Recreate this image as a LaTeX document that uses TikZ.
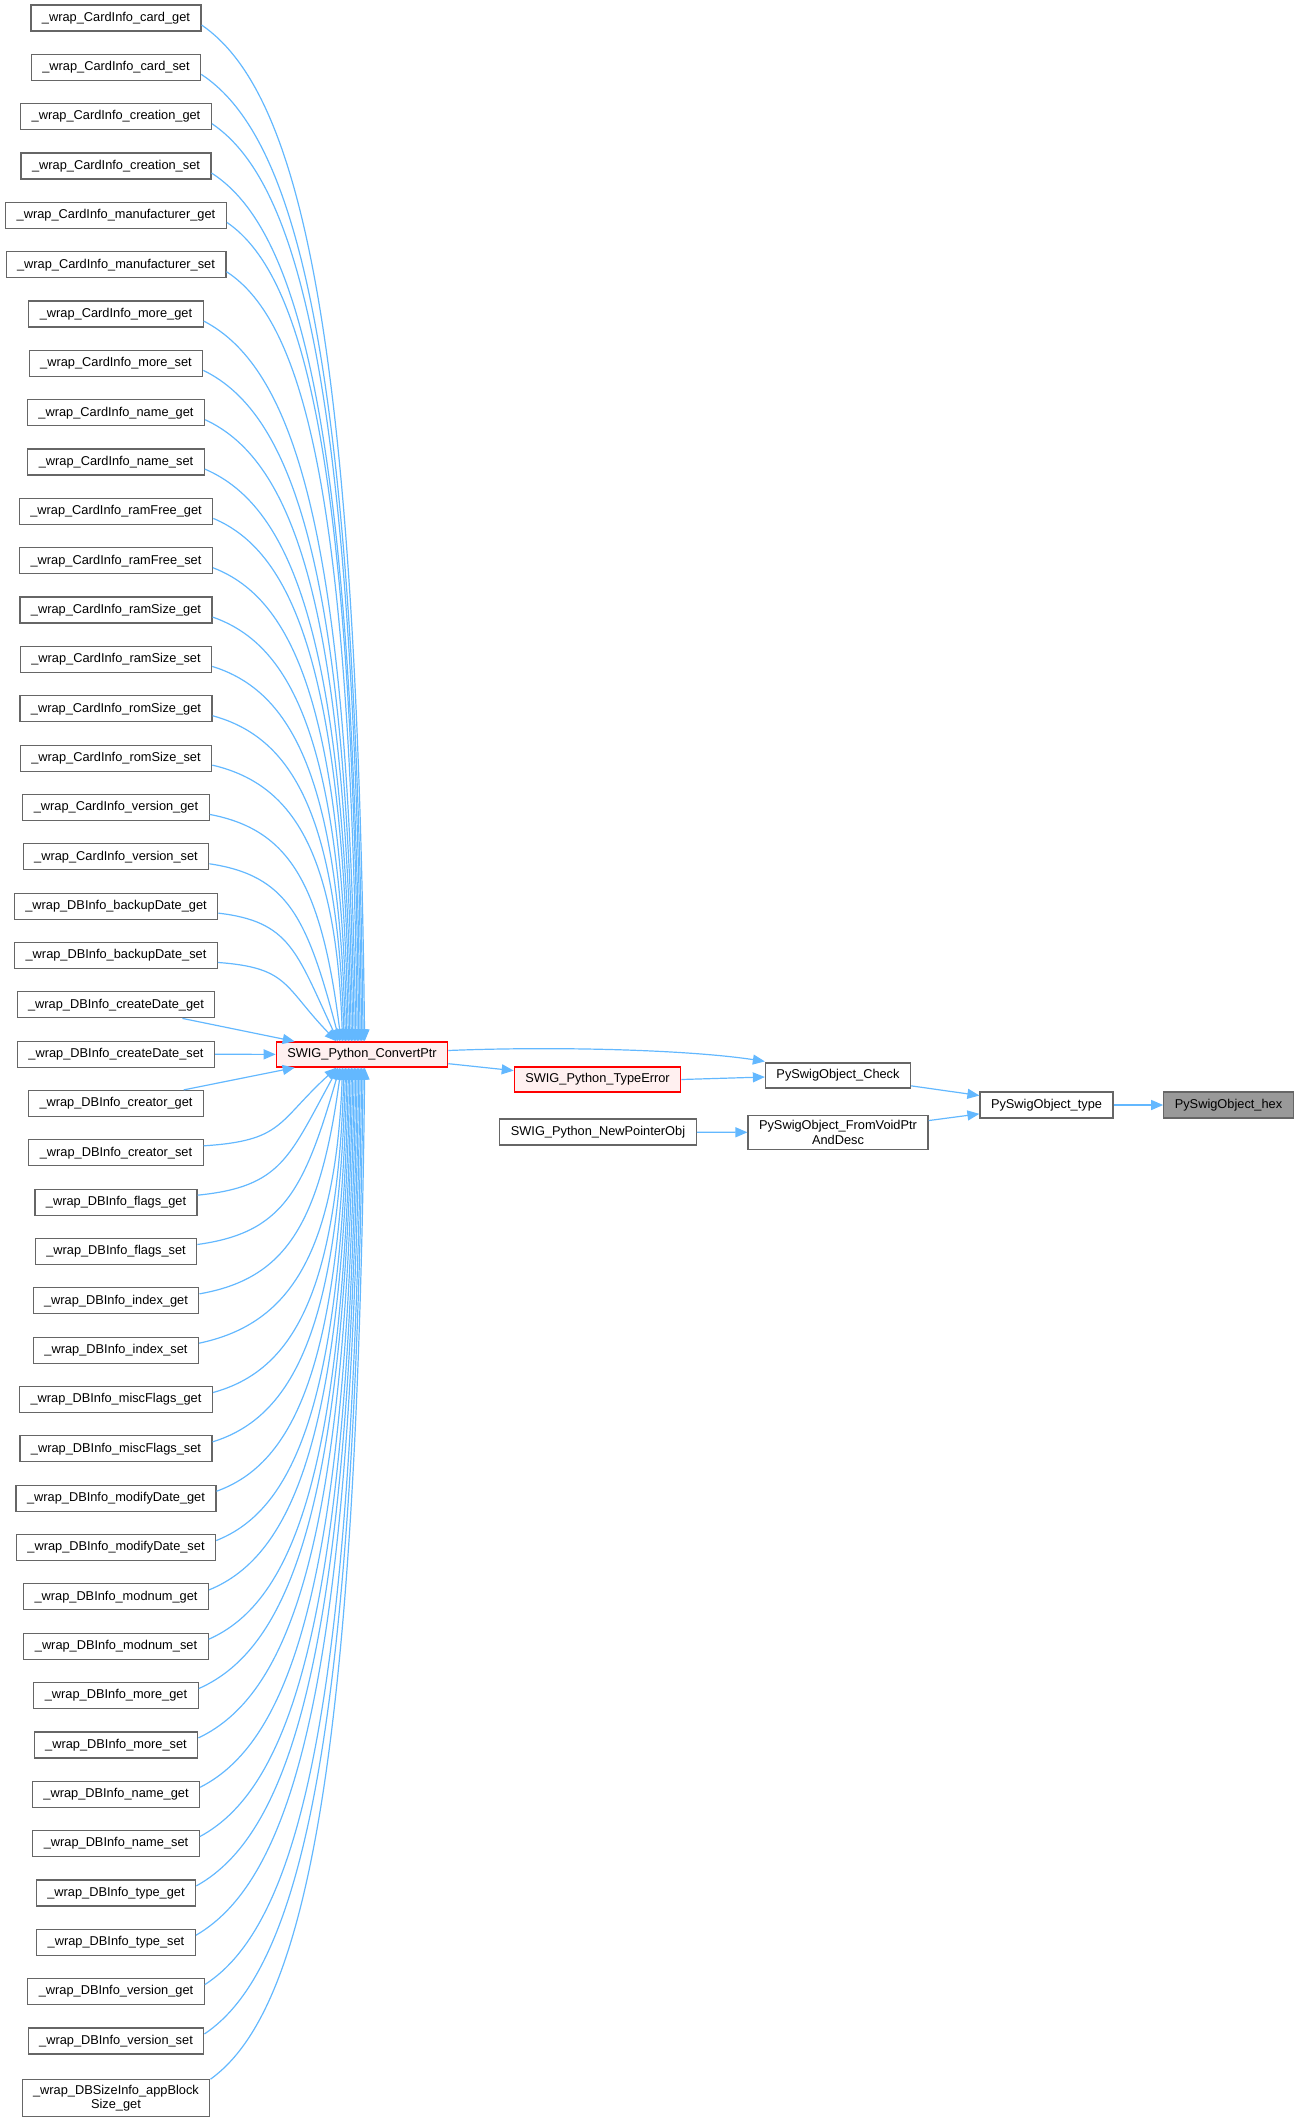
\documentclass[tikz,border=0pt]{standalone}
\usepackage{fontspec}
\setmainfont{Liberation Sans}
\usetikzlibrary{arrows.meta,calc}
\definecolor{edgeblue}{HTML}{63B8FF}
\definecolor{boxgray}{HTML}{666666}
\definecolor{hexfill}{HTML}{999999}
\definecolor{redfill}{HTML}{FFF0F0}
\tikzset{
  box/.style={draw=boxgray, line width=1.2pt, fill=white, minimum height=26pt,
    inner xsep=11pt, inner ysep=5pt, font=\fontsize{12.8}{14.5}\selectfont, align=center},
  redbox/.style={box, draw=red, fill=redfill},
  hexbox/.style={box, fill=hexfill},
  edge/.style={draw=edgeblue, line width=1.2pt, -{Triangle[length=12pt,width=10pt]}},
}
\begin{document}
\begin{tikzpicture}[x=1pt,y=-1pt]
\useasboundingbox (0,0) rectangle (1301,2124);
% left column
\foreach \t [count=\i] in {
\_wrap\_CardInfo\_card\_get,
\_wrap\_CardInfo\_card\_set,
\_wrap\_CardInfo\_creation\_get,
\_wrap\_CardInfo\_creation\_set,
\_wrap\_CardInfo\_manufacturer\_get,
\_wrap\_CardInfo\_manufacturer\_set,
\_wrap\_CardInfo\_more\_get,
\_wrap\_CardInfo\_more\_set,
\_wrap\_CardInfo\_name\_get,
\_wrap\_CardInfo\_name\_set,
\_wrap\_CardInfo\_ramFree\_get,
\_wrap\_CardInfo\_ramFree\_set,
\_wrap\_CardInfo\_ramSize\_get,
\_wrap\_CardInfo\_ramSize\_set,
\_wrap\_CardInfo\_romSize\_get,
\_wrap\_CardInfo\_romSize\_set,
\_wrap\_CardInfo\_version\_get,
\_wrap\_CardInfo\_version\_set,
\_wrap\_DBInfo\_backupDate\_get,
\_wrap\_DBInfo\_backupDate\_set,
\_wrap\_DBInfo\_createDate\_get,
\_wrap\_DBInfo\_createDate\_set,
\_wrap\_DBInfo\_creator\_get,
\_wrap\_DBInfo\_creator\_set,
\_wrap\_DBInfo\_flags\_get,
\_wrap\_DBInfo\_flags\_set,
\_wrap\_DBInfo\_index\_get,
\_wrap\_DBInfo\_index\_set,
\_wrap\_DBInfo\_miscFlags\_get,
\_wrap\_DBInfo\_miscFlags\_set,
\_wrap\_DBInfo\_modifyDate\_get,
\_wrap\_DBInfo\_modifyDate\_set,
\_wrap\_DBInfo\_modnum\_get,
\_wrap\_DBInfo\_modnum\_set,
\_wrap\_DBInfo\_more\_get,
\_wrap\_DBInfo\_more\_set,
\_wrap\_DBInfo\_name\_get,
\_wrap\_DBInfo\_name\_set,
\_wrap\_DBInfo\_type\_get,
\_wrap\_DBInfo\_type\_set,
\_wrap\_DBInfo\_version\_get,
\_wrap\_DBInfo\_version\_set}
{ \node[box] (n\i) at (116,{18+(\i-1)*49.34}) {\t}; }
\node[box] (n43) at (116,2098) {\_wrap\_DBSizeInfo\_appBlock\\Size\_get};

% middle and right nodes
\node[redbox, minimum height=25pt] (cp) at (362,1054.5) {SWIG\_Python\_ConvertPtr};
\node[redbox, minimum height=25pt] (te) at (597.5,1079.5) {SWIG\_Python\_TypeError};
\node[box] (np) at (598,1132) {SWIG\_Python\_NewPointerObj};
\node[box, minimum height=25pt] (chk) at (838,1075.5) {PySwigObject\_Check};
\node[box] (fv) at (838,1132.5) {PySwigObject\_FromVoidPtr\\AndDesc};
\node[box] (ty) at (1046.5,1105) {PySwigObject\_type};
\node[hexbox] (hex) at (1228.5,1105) {PySwigObject\_hex};

% edges from upper rows into ConvertPtr top
\foreach \i in {1,...,20} {
  \pgfmathsetmacro\k{22-\i}
  \pgfmathsetmacro\f{max(0.05,0.65-0.1*\k)}
  \pgfmathsetmacro\ex{61+(20-\i)*1.47}
  \draw[edge] let \p1=($(n\i.east)+(0,7)$), \p2=($(cp.north west)+(\ex,0)$) in
    (\p1) .. controls ({\x1+0.6*(\x2-\x1)},{\y1+0.066*(\y2-\y1)})
    and ({\x2-\f*(\x2-\x1)},{\y1+0.3*(\y2-\y1)}) .. (\p2);
}
% edges from lower rows into ConvertPtr bottom
\foreach \i in {24,...,42} {
  \pgfmathsetmacro\k{\i-22}
  \pgfmathsetmacro\f{max(0.05,0.65-0.1*\k)}
  \pgfmathsetmacro\ex{61+(\i-24)*1.47}
  \draw[edge] let \p1=($(n\i.east)+(0,-7)$), \p2=($(cp.south west)+(\ex,0)$) in
    (\p1) .. controls ({\x1+0.6*(\x2-\x1)},{\y1+0.066*(\y2-\y1)})
    and ({\x2-\f*(\x2-\x1)},{\y1+0.3*(\y2-\y1)}) .. (\p2);
}
\draw[edge] let \p1=(n43.north east), \p2=($(cp.south west)+(89,0)$) in
    (\p1) .. controls ({\x1+0.6*(\x2-\x1)},{\y1+0.066*(\y2-\y1)})
    and ({\x2-0.05*(\x2-\x1)},{\y1+0.3*(\y2-\y1)}) .. (\p2);
\draw[edge] (n21) -- ($(cp.north west)+(19,0)$);
\draw[edge] (n22) -- (cp);
\draw[edge] (n23) -- ($(cp.south west)+(19,0)$);

% right part
\draw[edge] ($(cp.east)+(0,-4)$) .. controls (560,1046) and (690,1050) .. ($(chk.north west)+(0,-1)$);
\draw[edge] (cp) -- (te);
\draw[edge] (te.east) -- ($(chk.west)+(0,1.5)$);
\draw[edge] (np) -- (fv);
\draw[edge] (chk) -- (ty);
\draw[edge] (fv) -- (ty);
\draw[edge] (ty) -- (hex);
\end{tikzpicture}
\end{document}
